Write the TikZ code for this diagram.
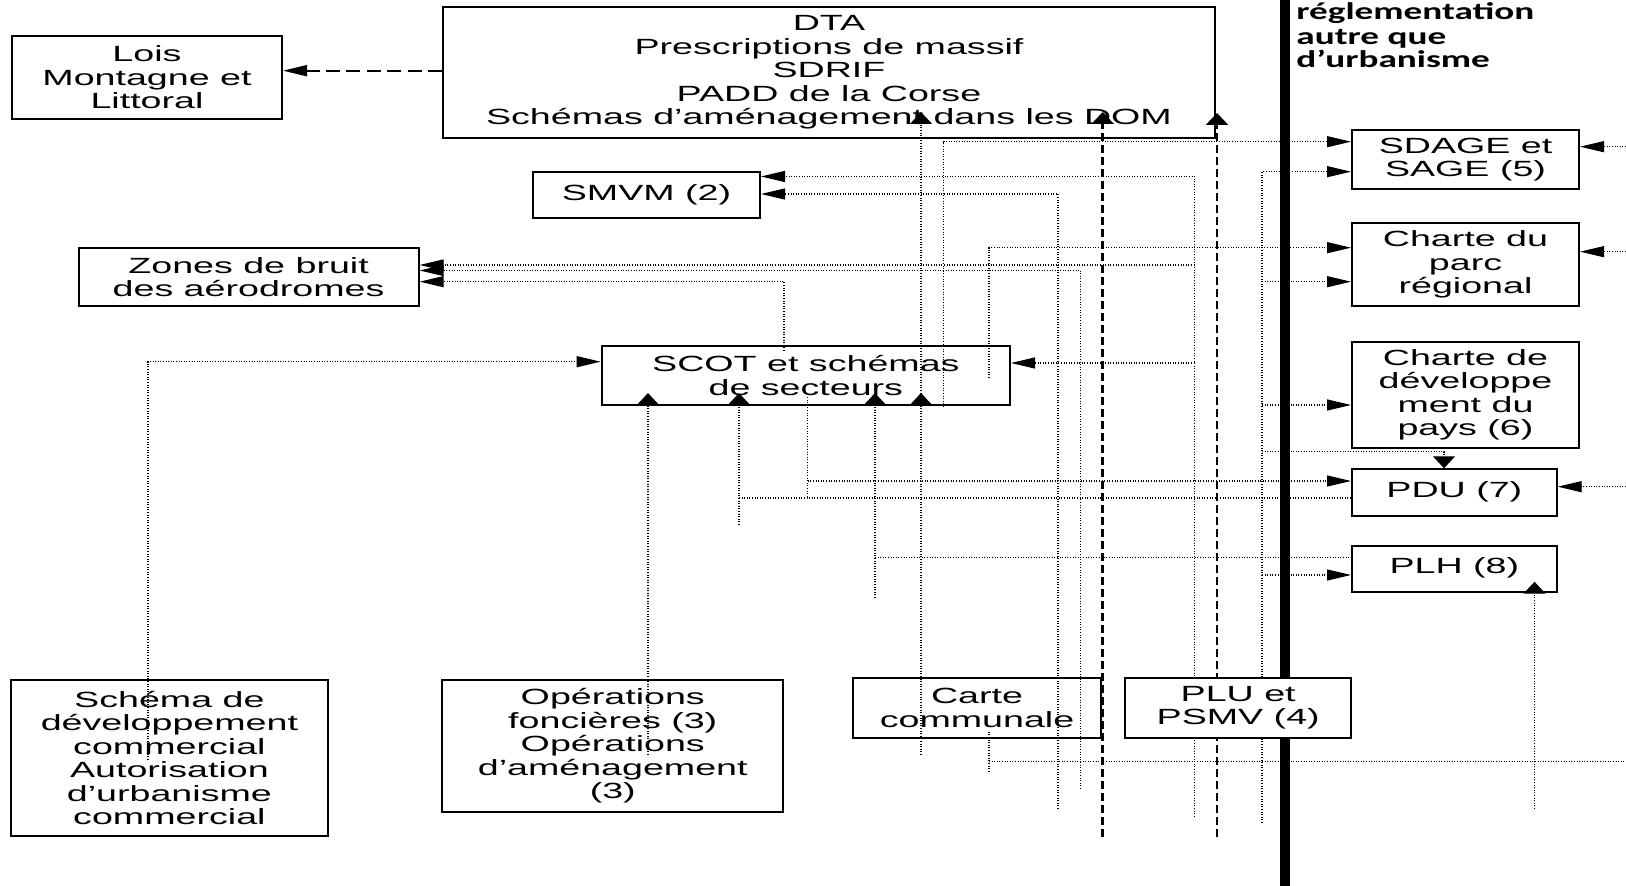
\documentclass[tikz,border=0pt]{standalone}
\usepackage{fontspec}
\setmainfont{Liberation Sans}[FakeStretch=1.71]
\newfontfamily\headfont{Carlito}[FakeStretch=1.55]
\usetikzlibrary{arrows.meta}
\begin{document}
\begin{tikzpicture}[x=0.5pt,y=-0.5pt,
  box/.style={draw, line width=1pt, inner sep=0pt, align=center, font=\fontsize{11}{11.7}\selectfont},
  dotl/.style={line width=0.6pt, dash pattern=on 0.5pt off 0.8pt},
  dashv/.style={line width=1.3pt, dash pattern=on 4pt off 2pt},
  dashh/.style={line width=1pt, dash pattern=on 7pt off 3.2pt},
  ha/.style={-{Triangle[length=12pt,width=5.5pt]}},
  va/.style={-{Triangle[length=6pt,width=11pt]}},
  head/.style={anchor=base west, inner sep=0pt, font=\headfont\bfseries\fontsize{12}{12}\selectfont},
]
\useasboundingbox (0,0) rectangle (1626,886);

% boxes
\node[box, minimum width=135pt, minimum height=41.5pt] (lois) at (147,77.5) {Lois\\Montagne et\\Littoral};
\node[box, minimum width=386pt, minimum height=65.5pt] (dta) at (829,72.5) {DTA\\Prescriptions de massif\\SDRIF\\PADD de la Corse\\Schémas d’aménagement dans les DOM};
\node[box, minimum width=113.5pt, minimum height=23pt] (smvm) at (646.5,195) {\raisebox{1pt}{SMVM (2)}};
\node[box, minimum width=170pt, minimum height=29.15pt] (zones) at (248.6,276.85) {Zones de bruit\\des aérodromes};
\node[box, minimum width=204.15pt, minimum height=29.5pt] (scot) at (805.85,375.5) {SCOT et schémas\\de secteurs};
\node[box, minimum width=113.5pt, minimum height=29.5pt] (sdage) at (1465.5,159.5) {SDAGE et\\SAGE (5)};
\node[box, minimum width=113.5pt, minimum height=41.5pt] (parc) at (1465.5,264.5) {Charte du\\parc\\régional};
\node[box, minimum width=113.5pt, minimum height=53.3pt] (dev) at (1465.5,395) {Charte de\\développe\\ment du\\pays (6)};
\node[box, minimum width=102.35pt, minimum height=23.35pt] (pdu) at (1454.35,492.65) {\raisebox{3pt}{PDU (7)}};
\node[box, minimum width=102.35pt, minimum height=23.3pt] (plh) at (1454.35,569) {\raisebox{3pt}{PLH (8)}};
\node[box, minimum width=158.2pt, minimum height=78pt] (com) at (169.4,758) {Schéma de\\développement\\commercial\\Autorisation\\d’urbanisme\\commercial};
\node[box, minimum width=170.45pt, minimum height=65.85pt] (op) at (612.75,745.85) {Opérations\\foncières (3)\\Opérations\\d’aménagement\\(3)};
\node[box, minimum width=124pt, minimum height=29.7pt] (carte) at (977,708) {Carte\\communale};

% heading
\node[head] (h1) at (1296,20) {réglementation};
\node[head] (h2) at (1296,44.5) {autre que};
\node[head] (h3) at (1296,68) {d’urbanisme};

% free ends
\coordinate (eCarteA) at (921,755);
\coordinate (eCarteB) at (1058,809);
\coordinate (eCarteC) at (1080.6,789);
\coordinate (eCarteD) at (989,731.7);
\coordinate (eCarteE) at (989,773.3);
\coordinate (ePLU) at (1194.5,816.7);
\coordinate (ePLUb) at (1262,823);
\coordinate (eDashA) at (1102.7,836.7);
\coordinate (eDashB) at (1217,836.7);
\coordinate (eCom) at (148,760);
\coordinate (eOp) at (648,755);
\coordinate (eS1) at (739,525);
\coordinate (eS2) at (875,598);
\coordinate (ePLH) at (1534.5,809);
\coordinate (eScA) at (943.5,407);
\coordinate (eScB) at (989,378);
\coordinate (eScC) at (784,351);
\coordinate (eScD) at (807.7,397);
\coordinate (eR1) at (1626,146.7);
\coordinate (eR2) at (1626,251.7);
\coordinate (eR3) at (1626,486.7);
\coordinate (eR4) at (1626,761.7);

% connectors
\draw[dashh,ha] (dta.west |- 0,70.7) -- (lois.east |- 0,70.7);

\draw[dotl,va] (eCarteA) -- (eCarteA |- 0,112);
\draw[dotl,va] (eCarteA |- 0,412) -- (eCarteA |- 0,393);
\draw[dotl,ha] (eScA) |- (sdage.west |- 0,141.7);
\draw[dotl,ha] (eScB) |- (parc.west |- 0,247.7);
\draw[dotl,ha] (ePLU) |- (smvm.east |- 0,176.5);
\draw[dotl,ha] (ePLU |- 0,265) -- (zones.east |- 0,265);
\draw[dotl,ha] (ePLU |- 0,363) -- (scot.east |- 0,363);
\draw[dotl,ha] (eCarteB) |- (smvm.east |- 0,194);
\draw[dotl,ha] (eCarteC) |- (zones.east |- 0,270.5);
\draw[dotl,ha] (eScC) |- (zones.east |- 0,281.7);
\draw[dotl,ha] (eCom) |- (scot.west |- 0,361.7);
\draw[dotl,va] (eOp) -- (eOp |- 0,393);
\draw[dotl,va] (eS1) -- (eS1 |- 0,393);
\draw[dotl] (eS1 |- 0,498) -- (pdu.west |- 0,498);
\draw[dotl] (eScD) -- (eScD |- 0,498);
\draw[dotl,ha] (eScD |- 0,481) -- (pdu.west |- 0,481);
\draw[dotl,va] (eS2) -- (eS2 |- 0,393);
\draw[dotl] (eS2 |- 0,557.3) -- (plh.west |- 0,557.3);
\draw[dotl,ha] (ePLUb) |- (sdage.west |- 0,171.7);
\draw[dotl,ha] (ePLUb |- 0,281.7) -- (parc.west |- 0,281.7);
\draw[dotl,ha] (ePLUb |- 0,405) -- (dev.west |- 0,405);
\draw[dotl,va] (ePLUb |- 0,451.7) -| (1444,0 |- pdu.north);
\draw[dotl,ha] (ePLUb |- 0,575) -- (plh.west |- 0,575);
\draw[dotl,va] (ePLH) -- (ePLH |- 0,581.7);
\draw[dotl] (eCarteD) -- (eCarteE);
\draw[dotl] (eCarteD |- eR4) -- (eR4);
\draw[dotl,ha] (eR1) -- (sdage.east |- eR1);
\draw[dotl,ha] (eR2) -- (parc.east |- eR2);
\draw[dotl,ha] (eR3) -- (pdu.east |- eR3);
\draw[dashv,va] (eDashA) -- (eDashA |- 0,112);
\draw[dashv,va] (eDashB) -- (eDashB |- 0,113);

% thick separator
\coordinate (sepTop) at (1285,0);
\coordinate (sepBot) at (1285,886);
\draw[line width=5pt] (sepTop) -- (sepBot);

\node[box, fill=white, minimum width=112.8pt, minimum height=29.7pt] (plu) at (1238.2,708) {PLU et\\PSMV (4)};
\end{tikzpicture}
\end{document}
